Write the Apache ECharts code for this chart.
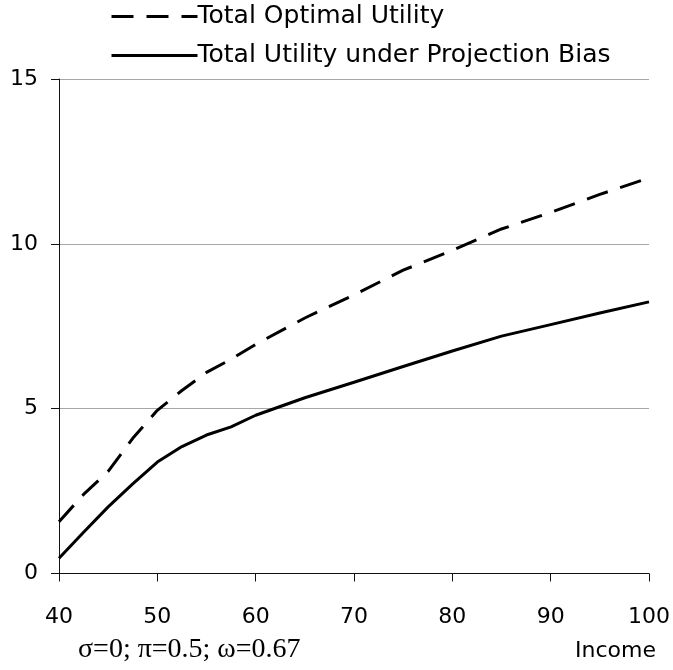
<!DOCTYPE html>
<html>
<head>
<meta charset="utf-8">
<script src="https://cdn.jsdelivr.net/npm/echarts@6/dist/echarts.min.js"></script>
<style>
html,body{margin:0;padding:0;background:#fff;}
#chart{width:673px;height:670px;}
</style>
</head>
<body>
<div id="chart"></div>
<script>
var income = [40, 42.5, 45, 47.5, 50, 52.5, 55, 57.5, 60, 65, 70, 75, 80, 85, 90, 95, 100];
var optimalUtility = [1.57, 2.4, 3.1, 4.1, 4.95, 5.55, 6.1, 6.5, 6.95, 7.75, 8.45, 9.2, 9.8, 10.45, 10.95, 11.5, 12.0];
var biasUtility = [0.46, 1.25, 2.02, 2.72, 3.38, 3.85, 4.2, 4.45, 4.8, 5.33, 5.8, 6.28, 6.75, 7.2, 7.55, 7.9, 8.24];
var seriesNames = ['Total Optimal Utility', 'Total Utility under Projection Bias'];
var yTicks = [0, 5, 10, 15];
var xTicks = [40, 50, 60, 70, 80, 90, 100];
var paramText = 'σ=0; π=0.5; ω=0.67';
var xTitle = 'Income';

function pairs(xs, ys) { return xs.map(function (x, i) { return [x, ys[i]]; }); }

var font = 'DejaVu Sans';
var chart = echarts.init(document.getElementById('chart'));
chart.setOption({
  animation: false,
  backgroundColor: '#fff',
  grid: { left: 59, right: 20, top: 79, bottom: 96.5 },
  legend: {
    orient: 'vertical',
    left: 105, top: -1,
    itemWidth: 86, itemHeight: 8, itemGap: 14,
    itemStyle: { opacity: 0 },
    lineStyle: { width: 3 },
    textStyle: { fontFamily: font, fontSize: 25, color: '#000', padding: [0, 0, 0, -5] },
    data: seriesNames
  },
  xAxis: {
    type: 'value', min: xTicks[0], max: xTicks[xTicks.length - 1], interval: 10,
    axisLine: { lineStyle: { color: '#111', width: 1 } },
    axisTick: { show: true, length: 8, lineStyle: { color: '#111' } },
    axisLabel: { margin: 33, fontFamily: font, fontSize: 22, color: '#000' },
    splitLine: { show: false }
  },
  yAxis: {
    type: 'value', min: yTicks[0], max: yTicks[yTicks.length - 1], interval: 5,
    axisLine: { show: true, lineStyle: { color: '#111', width: 1 } },
    axisTick: { show: true, length: 8, lineStyle: { color: '#111' } },
    axisLabel: { margin: 21, fontFamily: font, fontSize: 22, color: '#000' },
    splitLine: { show: true, lineStyle: { color: '#a6a6a6', width: 1 } }
  },
  series: [
    { name: seriesNames[0], type: 'line', data: pairs(income, optimalUtility), symbol: 'none',
      lineStyle: { color: '#000', width: 3, type: [22, 13] }, itemStyle: { color: '#000' } },
    { name: seriesNames[1], type: 'line', data: pairs(income, biasUtility), symbol: 'none',
      lineStyle: { color: '#000', width: 3, type: 'solid' }, itemStyle: { color: '#000' } }
  ],
  graphic: [
    { type: 'text', left: 78, top: 636, style: { text: paramText, fontFamily: 'Liberation Serif', fontSize: 28, fill: '#000' } },
    { type: 'text', left: 575, top: 640, style: { text: xTitle, fontFamily: font, fontSize: 22, fill: '#000' } }
  ]
});
</script>
</body>
</html>
